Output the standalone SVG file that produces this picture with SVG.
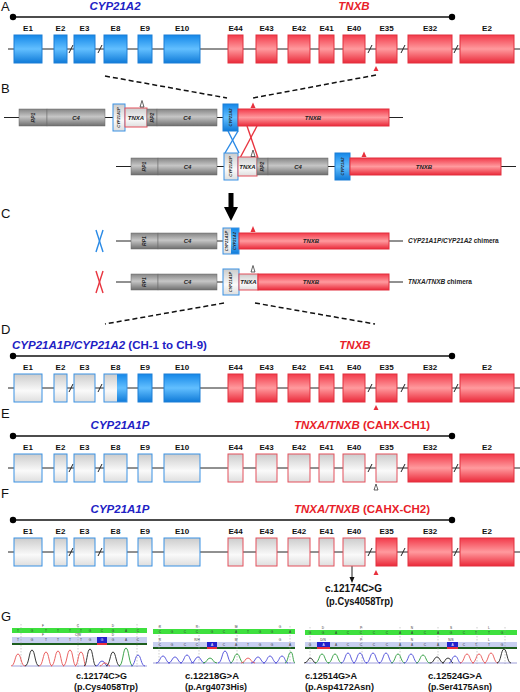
<svg xmlns="http://www.w3.org/2000/svg" width="520" height="692" viewBox="0 0 520 692">
<defs>
<linearGradient id="gB" x1="0" y1="0" x2="0" y2="1"><stop offset="0" stop-color="#1487e8"/><stop offset="0.5" stop-color="#62bfff"/><stop offset="1" stop-color="#0f7ad8"/></linearGradient>
<linearGradient id="gR" x1="0" y1="0" x2="0" y2="1"><stop offset="0" stop-color="#f23a4a"/><stop offset="0.5" stop-color="#ff9a9e"/><stop offset="1" stop-color="#ea2a3a"/></linearGradient>
<linearGradient id="gW" x1="0" y1="0" x2="0" y2="1"><stop offset="0" stop-color="#cccccc"/><stop offset="0.6" stop-color="#fafafa"/><stop offset="1" stop-color="#dedede"/></linearGradient>
<linearGradient id="gG" x1="0" y1="0" x2="0" y2="1"><stop offset="0" stop-color="#858585"/><stop offset="0.45" stop-color="#c6c6c6"/><stop offset="1" stop-color="#6e6e6e"/></linearGradient>
<style>
.pl{font-family:'Liberation Sans',Arial,sans-serif;font-size:13px;fill:#111}
.ttl{font-family:'Liberation Sans',Arial,sans-serif;font-weight:bold;font-size:11.5px}
.tb{fill:#2121c4}.tr{fill:#e81e2a}
.it{font-style:italic}
.el{font-family:'Liberation Sans',Arial,sans-serif;font-weight:bold;font-size:8px;text-anchor:middle;fill:#111}
.b{fill:url(#gB);stroke:#1c7fd6;stroke-width:1}
.r{fill:url(#gR);stroke:#e2303e;stroke-width:1}
.gw{fill:url(#gW);stroke:#3b92e4;stroke-width:1}
.gr{fill:url(#gW);stroke:#e4505c;stroke-width:1}
.cy{fill:url(#gG);stroke:#6a6a6a;stroke-width:0.5}
.ln{stroke:#222;stroke-width:1;fill:none}
.tl{stroke:#111;stroke-width:1.6;fill:none}
.ds{stroke:#111;stroke-width:1.5;stroke-dasharray:5 3;fill:none}
.bt{font-family:'Liberation Sans',Arial,sans-serif;font-weight:bold;font-style:italic;fill:#222;text-anchor:middle}
.f6{font-size:6px}.f5{font-size:5px}.f4{font-size:4px}
.cl{font-family:'Liberation Sans',Arial,sans-serif;font-weight:bold;font-size:6.5px;fill:#222}
.rt{fill:#e8303c}
.ot{fill:#fff;stroke:#222;stroke-width:0.7}
.xb{stroke:#2a8ae6;stroke-width:1.4;fill:none}
.xr{stroke:#e8343f;stroke-width:1.4;fill:none}
.ann{font-family:'Liberation Sans',Arial,sans-serif;font-weight:bold;font-size:10px;fill:#111}
.gl{font-family:'Liberation Sans',Arial,sans-serif;font-weight:bold;font-size:9.5px;fill:#111}
.sq{font-family:'Liberation Sans',Arial,sans-serif;font-size:3.2px;fill:#333;text-anchor:middle}
.sw{font-family:'Liberation Sans',Arial,sans-serif;font-size:3.2px;fill:#fff;text-anchor:middle}
.gbar{fill:#3ee03e}.lbar{fill:#c8cff0}.dbar{fill:#1d5e1d}.bsq{fill:#2222cc}.rul{fill:#e8303c}
.vd{stroke:#999;stroke-width:0.5;stroke-dasharray:1.5 1.5;fill:none}
.pr{stroke:#e85050;stroke-width:0.9;fill:none}
.pk{stroke:#222;stroke-width:0.9;fill:none}
.pb{stroke:#4848d8;stroke-width:0.9;fill:none}
.pg{stroke:#2a9a3a;stroke-width:0.9;fill:none}
</style>
</defs>
<rect width="520" height="692" fill="#fff"/>

<!-- panel letters -->
<text class="pl" x="1" y="11">A</text>
<text class="pl" x="1" y="93">B</text>
<text class="pl" x="1" y="218">C</text>
<text class="pl" x="1" y="334">D</text>
<text class="pl" x="1" y="418">E</text>
<text class="pl" x="1" y="498">F</text>
<text class="pl" x="1" y="621">G</text>

<!-- connectors -->
<g id="connectors">
<line class="ds" x1="105" y1="76" x2="227" y2="98"/>
<line class="ds" x1="376" y1="75" x2="253" y2="98"/>
<line class="xb" x1="228" y1="131" x2="239" y2="153"/>
<line class="xb" x1="238" y1="131" x2="225" y2="153"/>
<line class="xr" x1="247" y1="126" x2="258" y2="158"/>
<line class="xr" x1="257" y1="126" x2="240" y2="158"/>
<polygon points="228.5,193 233.5,193 233.5,207 238,207 231,221 224,207 228.5,207" fill="#000"/>
<line class="ds" x1="224" y1="303" x2="105" y2="324"/>
<line class="ds" x1="255" y1="303" x2="375" y2="324"/>
<line class="ln" x1="352" y1="566" x2="352" y2="578"/>
<polygon points="349.5,577 354.5,577 352,583" fill="#111"/>
</g>

<!-- PANEL A -->
<g id="panelA">
<g id="A-title"><line class="tl" x1="13" y1="17" x2="452" y2="17"/><circle cx="13" cy="17" r="3.2"/><circle cx="452" cy="17" r="3.2"/>
<text class="ttl tb it" x="115" y="9.7" text-anchor="middle">CYP21A2</text>
<text class="ttl tr it" x="354" y="9.7" text-anchor="middle">TNXB</text></g>
<line class="ln" x1="8" y1="49" x2="520" y2="49"/>
<g class="ln"><line x1="69" y1="53" x2="73" y2="45"/><line x1="98" y1="53" x2="102" y2="45"/><line x1="368" y1="53" x2="372" y2="45"/><line x1="401" y1="53" x2="405" y2="45"/><line x1="454" y1="53" x2="458" y2="45"/></g>
<g id="A-E1"><rect class="b" x="14" y="35" width="28" height="28"/><text class="el" x="28" y="31">E1</text></g>
<g id="A-E2"><rect class="b" x="54" y="35" width="13" height="28"/><text class="el" x="60.5" y="31">E2</text></g>
<g id="A-E3"><rect class="b" x="74" y="35" width="21" height="28"/><text class="el" x="84.5" y="31">E3</text></g>
<g id="A-E8"><rect class="b" x="104" y="35" width="23" height="28"/><text class="el" x="115.5" y="31">E8</text></g>
<g id="A-E9"><rect class="b" x="138" y="35" width="14" height="28"/><text class="el" x="145" y="31">E9</text></g>
<g id="A-E10"><rect class="b" x="164" y="35" width="36" height="28"/><text class="el" x="182" y="31">E10</text></g>
<g id="A-E44"><rect class="r" x="228" y="35" width="15" height="28"/><text class="el" x="235.5" y="31">E44</text></g>
<g id="A-E43"><rect class="r" x="256" y="35" width="21" height="28"/><text class="el" x="266.5" y="31">E43</text></g>
<g id="A-E42"><rect class="r" x="288" y="35" width="22" height="28"/><text class="el" x="299" y="31">E42</text></g>
<g id="A-E41"><rect class="r" x="319" y="35" width="15" height="28"/><text class="el" x="326.5" y="31">E41</text></g>
<g id="A-E40"><rect class="r" x="343" y="35" width="22" height="28"/><text class="el" x="354" y="31">E40</text></g>
<g id="A-E35"><rect class="r" x="376" y="35" width="21" height="28"/><text class="el" x="386.5" y="31">E35</text></g>
<g id="A-E32"><rect class="r" x="408" y="35" width="44" height="28"/><text class="el" x="430" y="31">E32</text></g>
<g id="A-E2b"><rect class="r" x="460" y="35" width="54" height="28"/><text class="el" x="487" y="31">E2</text></g>
<polygon class="rt" points="373.5,71 378.5,71 376,66"/>
</g>

<!-- PANEL B -->
<g id="panelB">
<line class="ln" x1="4" y1="117.5" x2="403" y2="117.5"/>
<g id="B1-RP1"><rect class="cy" x="19" y="109" width="28" height="17"/><text class="bt f5" x="33" y="117.5" dy="1.7" transform="rotate(-90 33 117.5)">RP1</text></g>
<g id="B1-C4"><rect class="cy" x="47" y="109" width="58" height="17"/><text class="bt f6" x="76" y="119.7">C4</text></g>
<g id="B1-CYP21A1P"><rect class="gw" x="113" y="104" width="12" height="27"/><text class="bt f4" x="119" y="117.5" dy="1.4" transform="rotate(-90 119 117.5)">CYP21A1P</text></g>
<g id="B1-TNXA"><rect class="gr" x="125" y="108" width="22" height="19"/><text class="bt f6" x="136" y="119.7">TNXA</text></g>
<polygon class="ot" points="140,107 144,107 142,100.5"/>
<g id="B1-RP2"><rect class="cy" x="147" y="109" width="10" height="17"/><text class="bt f5" x="152" y="117.5" dy="1.7" transform="rotate(-90 152 117.5)">RP2</text></g>
<g id="B1-C4b"><rect class="cy" x="157" y="109" width="60" height="17"/><text class="bt f6" x="187" y="119.7">C4</text></g>
<g id="B1-CYP21A2"><rect class="b" x="223" y="104" width="15" height="27"/><text class="bt f4" x="230.5" y="117.5" dy="1.4" transform="rotate(-90 230.5 117.5)">CYP21A2</text></g>
<g id="B1-TNXB"><rect class="r" x="238" y="109" width="151" height="17"/><text class="bt f6" x="313" y="119.7">TNXB</text></g>
<polygon class="rt" points="250.5,108 255.5,108 253,102.5"/>

<line class="ln" x1="116" y1="166.5" x2="516" y2="166.5"/>
<g id="B2-RP1"><rect class="cy" x="131" y="158" width="27" height="17"/><text class="bt f5" x="144.5" y="166.5" dy="1.7" transform="rotate(-90 144.5 166.5)">RP1</text></g>
<g id="B2-C4"><rect class="cy" x="158" y="158" width="59" height="17"/><text class="bt f6" x="187.5" y="168.7">C4</text></g>
<g id="B2-CYP21A1P"><rect class="gw" x="224" y="153" width="14" height="27"/><text class="bt f4" x="231" y="166.5" dy="1.4" transform="rotate(-90 231 166.5)">CYP21A1P</text></g>
<g id="B2-TNXA"><rect class="gr" x="238" y="157" width="19" height="19"/><text class="bt f6" x="247.5" y="168.7">TNXA</text></g>
<polygon class="ot" points="251,156.5 255,156.5 253,150"/>
<g id="B2-RP2"><rect class="cy" x="257" y="158" width="11" height="17"/><text class="bt f5" x="262.5" y="166.5" dy="1.7" transform="rotate(-90 262.5 166.5)">RP2</text></g>
<g id="B2-C4b"><rect class="cy" x="268" y="158" width="60" height="17"/><text class="bt f6" x="298" y="168.7">C4</text></g>
<g id="B2-CYP21A2"><rect class="b" x="335" y="153" width="15" height="27"/><text class="bt f4" x="342.5" y="166.5" dy="1.4" transform="rotate(-90 342.5 166.5)">CYP21A2</text></g>
<g id="B2-TNXB"><rect class="r" x="350" y="158" width="151" height="17"/><text class="bt f6" x="424" y="168.7">TNXB</text></g>
<polygon class="rt" points="361.5,157 366.5,157 364,151.5"/>
</g>

<!-- PANEL C -->
<g id="panelC">
<g id="C1-X"><line class="xb" x1="96" y1="230" x2="103" y2="252"/><line class="xb" x1="103" y1="230" x2="96" y2="252"/></g>
<line class="ln" x1="116" y1="241" x2="403" y2="241"/>
<g id="C1-RP1"><rect class="cy" x="131" y="233" width="27" height="16"/><text class="bt f5" x="144.5" y="241" dy="1.7" transform="rotate(-90 144.5 241)">RP1</text></g>
<g id="C1-C4"><rect class="cy" x="158" y="233" width="59" height="16"/><text class="bt f6" x="187.5" y="243.2">C4</text></g>
<g id="C1-chimera"><rect x="223" y="228" width="8" height="26" fill="url(#gW)"/><rect x="231" y="228" width="8" height="26" fill="url(#gB)"/><rect x="223" y="228" width="16" height="26" fill="none" stroke="#3b92e4"/>
<text class="bt f4" x="227" y="241" dy="1.4" transform="rotate(-90 227 241)">CYP21A1P</text><text class="bt f4" x="235" y="241" dy="1.4" transform="rotate(-90 235 241)">CYP21A2</text></g>
<g id="C1-TNXB"><rect class="r" x="239" y="233" width="150" height="16"/><text class="bt f6" x="311" y="243.2">TNXB</text></g>
<polygon class="rt" points="250.5,232 255.5,232 253,226"/>
<text class="cl" x="408" y="243.3"><tspan font-style="italic">CYP21A1P/CYP21A2</tspan> chimera</text>

<g id="C2-X"><line class="xr" x1="96" y1="271" x2="103" y2="293"/><line class="xr" x1="103" y1="271" x2="96" y2="293"/></g>
<line class="ln" x1="116" y1="282" x2="403" y2="282"/>
<g id="C2-RP1"><rect class="cy" x="131" y="274" width="27" height="16"/><text class="bt f5" x="144.5" y="282" dy="1.7" transform="rotate(-90 144.5 282)">RP1</text></g>
<g id="C2-C4"><rect class="cy" x="158" y="274" width="59" height="16"/><text class="bt f6" x="187.5" y="284.2">C4</text></g>
<g id="C2-CYP21A1P"><rect class="gw" x="223" y="269" width="16" height="26"/><text class="bt f4" x="231" y="282" dy="1.4" transform="rotate(-90 231 282)">CYP21A1P</text></g>
<g id="C2-TNXA"><rect class="gr" x="239" y="274" width="19" height="16"/><text class="bt f6" x="248.5" y="284.2">TNXA</text></g>
<polygon class="ot" points="251,272 255,272 253,265.5"/>
<g id="C2-TNXB"><rect class="r" x="258" y="274" width="131" height="16"/><text class="bt f6" x="311" y="284.2">TNXB</text></g>
<text class="cl" x="408" y="284.3"><tspan font-style="italic">TNXA/TNXB</tspan> chimera</text>
</g>

<!-- PANEL D -->
<g id="panelD" transform="translate(0,339)">
<g id="D-title"><line class="tl" x1="13" y1="17" x2="452" y2="17"/><circle cx="13" cy="17" r="3.2"/><circle cx="452" cy="17" r="3.2"/>
<text class="ttl tb" x="12" y="9.5"><tspan class="it">CYP21A1P/CYP21A2</tspan> (CH-1 to CH-9)</text>
<text class="ttl tr it" x="355" y="9.5" text-anchor="middle">TNXB</text></g>
<line class="ln" x1="8" y1="49" x2="520" y2="49"/>
<g class="ln"><line x1="69" y1="53" x2="73" y2="45"/><line x1="98" y1="53" x2="102" y2="45"/><line x1="368" y1="53" x2="372" y2="45"/><line x1="401" y1="53" x2="405" y2="45"/><line x1="454" y1="53" x2="458" y2="45"/></g>
<g id="D-E1"><rect class="gw" x="14" y="35" width="28" height="28"/><text class="el" x="28" y="31">E1</text></g>
<g id="D-E2"><rect class="gw" x="54" y="35" width="13" height="28"/><text class="el" x="60.5" y="31">E2</text></g>
<g id="D-E3"><rect class="gw" x="74" y="35" width="21" height="28"/><text class="el" x="84.5" y="31">E3</text></g>
<g id="D-E8"><rect x="104" y="35" width="13" height="28" fill="url(#gW)"/><rect x="117" y="35" width="10" height="28" fill="url(#gB)"/><rect x="104" y="35" width="23" height="28" fill="none" stroke="#3b92e4"/><text class="el" x="115.5" y="31">E8</text></g>
<g id="D-E9"><rect class="b" x="138" y="35" width="14" height="28"/><text class="el" x="145" y="31">E9</text></g>
<g id="D-E10"><rect class="b" x="164" y="35" width="36" height="28"/><text class="el" x="182" y="31">E10</text></g>
<g id="D-E44"><rect class="r" x="228" y="35" width="15" height="28"/><text class="el" x="235.5" y="31">E44</text></g>
<g id="D-E43"><rect class="r" x="256" y="35" width="21" height="28"/><text class="el" x="266.5" y="31">E43</text></g>
<g id="D-E42"><rect class="r" x="288" y="35" width="22" height="28"/><text class="el" x="299" y="31">E42</text></g>
<g id="D-E41"><rect class="r" x="319" y="35" width="15" height="28"/><text class="el" x="326.5" y="31">E41</text></g>
<g id="D-E40"><rect class="r" x="343" y="35" width="22" height="28"/><text class="el" x="354" y="31">E40</text></g>
<g id="D-E35"><rect class="r" x="376" y="35" width="21" height="28"/><text class="el" x="386.5" y="31">E35</text></g>
<g id="D-E32"><rect class="r" x="408" y="35" width="44" height="28"/><text class="el" x="430" y="31">E32</text></g>
<g id="D-E2b"><rect class="r" x="460" y="35" width="54" height="28"/><text class="el" x="487" y="31">E2</text></g>
<polygon class="rt" points="373.5,71 378.5,71 376,66"/>
</g>

<!-- PANEL E -->
<g id="panelE" transform="translate(0,419)">
<g id="E-title"><line class="tl" x1="13" y1="17" x2="452" y2="17"/><circle cx="13" cy="17" r="3.2"/><circle cx="452" cy="17" r="3.2"/>
<text class="ttl tb it" x="120" y="9.7" text-anchor="middle">CYP21A1P</text>
<text class="ttl tr" x="362" y="9.7" text-anchor="middle"><tspan class="it">TNXA/TNXB</tspan> (CAHX-CH1)</text></g>
<line class="ln" x1="8" y1="49" x2="520" y2="49"/>
<g class="ln"><line x1="69" y1="53" x2="73" y2="45"/><line x1="98" y1="53" x2="102" y2="45"/><line x1="368" y1="53" x2="372" y2="45"/><line x1="401" y1="53" x2="405" y2="45"/><line x1="454" y1="53" x2="458" y2="45"/></g>
<g id="E-E1"><rect class="gw" x="14" y="35" width="28" height="28"/><text class="el" x="28" y="31">E1</text></g>
<g id="E-E2"><rect class="gw" x="54" y="35" width="13" height="28"/><text class="el" x="60.5" y="31">E2</text></g>
<g id="E-E3"><rect class="gw" x="74" y="35" width="21" height="28"/><text class="el" x="84.5" y="31">E3</text></g>
<g id="E-E8"><rect class="gw" x="104" y="35" width="23" height="28"/><text class="el" x="115.5" y="31">E8</text></g>
<g id="E-E9"><rect class="gw" x="138" y="35" width="14" height="28"/><text class="el" x="145" y="31">E9</text></g>
<g id="E-E10"><rect class="gw" x="164" y="35" width="36" height="28"/><text class="el" x="182" y="31">E10</text></g>
<g id="E-E44"><rect class="gr" x="228" y="35" width="15" height="28"/><text class="el" x="235.5" y="31">E44</text></g>
<g id="E-E43"><rect class="gr" x="256" y="35" width="21" height="28"/><text class="el" x="266.5" y="31">E43</text></g>
<g id="E-E42"><rect class="gr" x="288" y="35" width="22" height="28"/><text class="el" x="299" y="31">E42</text></g>
<g id="E-E41"><rect class="gr" x="319" y="35" width="15" height="28"/><text class="el" x="326.5" y="31">E41</text></g>
<g id="E-E40"><rect class="gr" x="343" y="35" width="22" height="28"/><text class="el" x="354" y="31">E40</text></g>
<g id="E-E35"><rect class="gr" x="376" y="35" width="21" height="28"/><text class="el" x="386.5" y="31">E35</text></g>
<g id="E-E32"><rect class="r" x="408" y="35" width="44" height="28"/><text class="el" x="430" y="31">E32</text></g>
<g id="E-E2b"><rect class="r" x="460" y="35" width="54" height="28"/><text class="el" x="487" y="31">E2</text></g>
<polygon class="ot" points="374,71 378,71 376,65"/>
</g>

<!-- PANEL F -->
<g id="panelF" transform="translate(0,503)">
<g id="F-title"><line class="tl" x1="13" y1="17" x2="452" y2="17"/><circle cx="13" cy="17" r="3.2"/><circle cx="452" cy="17" r="3.2"/>
<text class="ttl tb it" x="120" y="9.7" text-anchor="middle">CYP21A1P</text>
<text class="ttl tr" x="362" y="9.7" text-anchor="middle"><tspan class="it">TNXA/TNXB</tspan> (CAHX-CH2)</text></g>
<line class="ln" x1="8" y1="49" x2="520" y2="49"/>
<g class="ln"><line x1="69" y1="53" x2="73" y2="45"/><line x1="98" y1="53" x2="102" y2="45"/><line x1="368" y1="53" x2="372" y2="45"/><line x1="401" y1="53" x2="405" y2="45"/><line x1="454" y1="53" x2="458" y2="45"/></g>
<g id="F-E1"><rect class="gw" x="14" y="35" width="28" height="28"/><text class="el" x="28" y="31">E1</text></g>
<g id="F-E2"><rect class="gw" x="54" y="35" width="13" height="28"/><text class="el" x="60.5" y="31">E2</text></g>
<g id="F-E3"><rect class="gw" x="74" y="35" width="21" height="28"/><text class="el" x="84.5" y="31">E3</text></g>
<g id="F-E8"><rect class="gw" x="104" y="35" width="23" height="28"/><text class="el" x="115.5" y="31">E8</text></g>
<g id="F-E9"><rect class="gw" x="138" y="35" width="14" height="28"/><text class="el" x="145" y="31">E9</text></g>
<g id="F-E10"><rect class="gw" x="164" y="35" width="36" height="28"/><text class="el" x="182" y="31">E10</text></g>
<g id="F-E44"><rect class="gr" x="228" y="35" width="15" height="28"/><text class="el" x="235.5" y="31">E44</text></g>
<g id="F-E43"><rect class="gr" x="256" y="35" width="21" height="28"/><text class="el" x="266.5" y="31">E43</text></g>
<g id="F-E42"><rect class="gr" x="288" y="35" width="22" height="28"/><text class="el" x="299" y="31">E42</text></g>
<g id="F-E41"><rect class="gr" x="319" y="35" width="15" height="28"/><text class="el" x="326.5" y="31">E41</text></g>
<g id="F-E40"><rect class="gr" x="343" y="35" width="22" height="28"/><text class="el" x="354" y="31">E40</text></g>
<g id="F-E35"><rect class="r" x="376" y="35" width="21" height="28"/><text class="el" x="386.5" y="31">E35</text></g>
<g id="F-E32"><rect class="r" x="408" y="35" width="44" height="28"/><text class="el" x="430" y="31">E32</text></g>
<g id="F-E2b"><rect class="r" x="460" y="35" width="54" height="28"/><text class="el" x="487" y="31">E2</text></g>
<polygon class="rt" points="373.5,72 378.5,72 376,67"/>
</g>
<g id="F-annotation">
<text class="ann" x="325" y="592">c.12174C&gt;G</text>
<text class="ann" x="326" y="604.5" textLength="67" lengthAdjust="spacingAndGlyphs">(p.Cys4058Trp)</text>
</g>

<!-- PANEL G -->
<g id="panelG">
<g id="G-trace1">
<rect class="gbar" x="12" y="628" width="135" height="5"/>
<rect class="lbar" x="12" y="637" width="135" height="6"/>
<rect class="dbar" x="12" y="643" width="135" height="2"/>
<rect class="bsq" x="97" y="637" width="10" height="6"/>
<rect class="rul" x="97" y="643" width="10" height="2"/>
<g class="vd"><line x1="21" y1="624" x2="21" y2="667"/><line x1="78" y1="624" x2="78" y2="667"/><line x1="137" y1="624" x2="137" y2="667"/></g>
<g class="sq"><text x="43" y="626.5">F</text><text x="78" y="626.5">C</text><text x="113" y="626.5">D</text>
<text x="18" y="631.8">T</text><text x="32" y="631.8">G</text><text x="46" y="631.8">T</text><text x="58" y="631.8">T</text><text x="70" y="631.8">T</text><text x="81" y="631.8">T</text><text x="90" y="631.8">G</text><text x="102" y="631.8">C</text><text x="113" y="631.8">G</text><text x="126" y="631.8">A</text><text x="138" y="631.8">C</text>
<text x="43" y="635.8">F</text><text x="78" y="635.8">C/W</text><text x="113" y="635.8">D</text>
<text x="18" y="641.2">T</text><text x="32" y="641.2">G</text><text x="46" y="641.2">T</text><text x="58" y="641.2">T</text><text x="70" y="641.2">T</text><text x="81" y="641.2">T</text><text x="90" y="641.2">G</text><text x="113" y="641.2">G</text><text x="126" y="641.2">A</text><text x="138" y="641.2">C</text></g>
<text class="sw" x="102" y="641.2">G</text>
<line x1="12" y1="666" x2="147" y2="666" stroke="#6060c0" stroke-width="0.6"/>
<path class="pr" d="M11,666 C15,666 15,654 18,654 C21,654 21,666 25,666"/>
<path class="pk" d="M25,666 C29,666 29,650 32,650 C35,650 35,666 39,666"/>
<path class="pr" d="M39,666 C43,666 43,652 46,652 C49,652 49,666 52,666"/>
<path class="pr" d="M51,666 C55,666 55,651 58,651 C61,651 61,666 64,666"/>
<path class="pr" d="M63,666 C67,666 67,650 70,650 C73,650 73,666 76,666"/>
<path class="pr" d="M75,666 C78,666 78,652 81,652 C84,652 84,666 86,666"/>
<path class="pk" d="M84,666 C87,666 87,649 90,649 C93,649 93,666 96,666"/>
<path class="pb" d="M96,666 C99,666 99,661 102,661 C105,661 105,666 108,666"/>
<path class="pr" d="M100,666 C102,666 102,663 105,663 C108,663 108,666 110,666"/>
<path class="pk" d="M106,666 C110,666 110,652 113,652 C116,652 116,666 120,666"/>
<path class="pg" d="M119,666 C123,666 123,648 126,648 C129,648 129,666 133,666"/>
<path class="pb" d="M131,666 C135,666 135,655 138,655 C141,655 141,666 145,666"/>
</g>

<g id="G-trace2">
<rect class="gbar" x="153" y="629" width="142" height="5"/>
<rect class="lbar" x="153" y="642" width="142" height="5"/>
<rect class="dbar" x="153" y="647" width="142" height="2"/>
<rect class="bsq" x="207" y="642" width="10" height="5"/>
<rect class="rul" x="207" y="647" width="10" height="2"/>
<g class="vd"><line x1="159" y1="626" x2="159" y2="664"/><line x1="199" y1="626" x2="199" y2="664"/><line x1="237" y1="626" x2="237" y2="664"/><line x1="290" y1="626" x2="290" y2="664"/></g>
<g class="sq"><text x="160" y="627.5">R</text><text x="197" y="627.5">R</text><text x="236" y="627.5">M</text><text x="280" y="627.5">G</text>
<text x="160" y="632.8">C</text><text x="172" y="632.8">G</text><text x="185" y="632.8">C</text><text x="197" y="632.8">C</text><text x="212" y="632.8">G</text><text x="224" y="632.8">C</text><text x="236" y="632.8">A</text><text x="248" y="632.8">T</text><text x="260" y="632.8">G</text><text x="272" y="632.8">G</text><text x="290" y="632.8">A</text>
<text x="160" y="640.5">R</text><text x="197" y="640.5">R/H</text><text x="236" y="640.5">M</text><text x="280" y="640.5">G</text>
<text x="160" y="645.8">C</text><text x="172" y="645.8">G</text><text x="185" y="645.8">C</text><text x="197" y="645.8">C</text><text x="224" y="645.8">C</text><text x="236" y="645.8">A</text><text x="248" y="645.8">T</text><text x="260" y="645.8">G</text><text x="272" y="645.8">G</text><text x="290" y="645.8">A</text></g>
<text class="sw" x="212" y="645.8">A</text>
<line x1="153" y1="663" x2="295" y2="663" stroke="#6060c0" stroke-width="0.6"/>
<path class="pb" d="M156,663 C160,663 160,656 163,656 C166,656 166,663 170,663"/>
<path class="pb" d="M168,663 C172,663 172,657 175,657 C178,657 178,663 182,663"/>
<path class="pb" d="M180,663 C184,663 184,655 187,655 C190,655 190,663 194,663"/>
<path class="pb" d="M191,663 C195,663 195,657 198,657 C201,657 201,663 205,663"/>
<path class="pg" d="M203,663 C207,663 207,658 210,658 C213,658 213,663 217,663"/>
<path class="pb" d="M218,663 C222,663 222,651 225,651 C228,651 228,663 232,663"/>
<path class="pg" d="M230,663 C234,663 234,654 237,654 C240,654 240,663 244,663"/>
<path class="pr" d="M241,663 C245,663 245,658 248,658 C251,658 251,663 255,663"/>
<path class="pb" d="M251,663 C255,663 255,657 258,657 C261,657 261,663 265,663"/>
<path class="pb" d="M263,663 C267,663 267,656 270,656 C273,656 273,663 277,663"/>
<path class="pb" d="M275,663 C279,663 279,656 282,656 C285,656 285,663 288,663"/>
<path class="pg" d="M285,663 C288,663 288,652 291,652 C293,652 293,663 295,663"/>
</g>

<g id="G-trace3">
<rect class="gbar" x="305" y="630" width="212" height="5"/>
<rect class="lbar" x="305" y="642" width="212" height="5"/>
<rect class="dbar" x="305" y="647" width="212" height="2"/>
<rect class="bsq" x="317" y="642" width="13" height="5"/>
<rect class="rul" x="317" y="647" width="13" height="2"/>
<rect class="bsq" x="447" y="642" width="11" height="5"/>
<rect class="rul" x="447" y="647" width="11" height="2"/>
<g class="vd"><line x1="310" y1="627" x2="310" y2="664"/><line x1="362" y1="627" x2="362" y2="664"/><line x1="400" y1="627" x2="400" y2="664"/><line x1="438" y1="627" x2="438" y2="664"/><line x1="477" y1="627" x2="477" y2="664"/><line x1="505" y1="627" x2="505" y2="664"/></g>
<g class="sq"><text x="323" y="628.5">D</text><text x="361" y="628.5">P</text><text x="412" y="628.5">N</text><text x="451" y="628.5">S</text><text x="489" y="628.5">L</text>
<text x="310" y="633.8">G</text><text x="323" y="633.8">G</text><text x="336" y="633.8">A</text><text x="348" y="633.8">C</text><text x="361" y="633.8">C</text><text x="374" y="633.8">C</text><text x="387" y="633.8">C</text><text x="400" y="633.8">A</text><text x="412" y="633.8">A</text><text x="425" y="633.8">C</text><text x="438" y="633.8">A</text><text x="451" y="633.8">G</text><text x="464" y="633.8">C</text><text x="476" y="633.8">T</text><text x="489" y="633.8">T</text><text x="502" y="633.8">G</text>
<text x="323" y="640.5">D/N</text><text x="361" y="640.5">P</text><text x="412" y="640.5">N</text><text x="451" y="640.5">N/S</text><text x="489" y="640.5">L</text>
<text x="310" y="645.8">G</text><text x="336" y="645.8">A</text><text x="348" y="645.8">C</text><text x="361" y="645.8">C</text><text x="374" y="645.8">C</text><text x="387" y="645.8">C</text><text x="400" y="645.8">A</text><text x="412" y="645.8">A</text><text x="425" y="645.8">C</text><text x="438" y="645.8">A</text><text x="464" y="645.8">C</text><text x="476" y="645.8">T</text><text x="489" y="645.8">T</text><text x="502" y="645.8">G</text></g>
<text class="sw" x="323.5" y="645.8">A</text><text class="sw" x="452.5" y="645.8">A</text>
<line x1="305" y1="663" x2="517" y2="663" stroke="#6060c0" stroke-width="0.6"/>
<path class="pk" d="M304,663 C308,663 308,658 310,658 C313,658 313,663 316,663"/>
<path class="pg" d="M315,663 C319,663 319,654 322,654 C325,654 325,663 329,663"/>
<path class="pg" d="M328,663 C332,663 332,654 335,654 C338,654 338,663 342,663"/>
<path class="pb" d="M341,663 C345,663 345,653 348,653 C351,653 351,663 355,663"/>
<path class="pb" d="M353,663 C357,663 357,653 360,653 C363,653 363,663 367,663"/>
<path class="pb" d="M366,663 C370,663 370,653 373,653 C376,653 376,663 380,663"/>
<path class="pb" d="M379,663 C383,663 383,653 386,653 C389,653 389,663 393,663"/>
<path class="pg" d="M391,663 C395,663 395,654 398,654 C401,654 401,663 405,663"/>
<path class="pb" d="M404,663 C408,663 408,654 411,654 C414,654 414,663 418,663"/>
<path class="pg" d="M416,663 C420,663 420,655 423,655 C426,655 426,663 430,663"/>
<path class="pk" d="M430,663 C434,663 434,657 437,657 C440,657 440,663 444,663"/>
<path class="pk" d="M442,663 C445,663 445,658 448,658 C451,658 451,663 453,663"/>
<path class="pb" d="M449,663 C452,663 452,656 455,656 C458,656 458,663 461,663"/>
<path class="pr" d="M460,663 C464,663 464,654 467,654 C470,654 470,663 474,663"/>
<path class="pr" d="M472,663 C476,663 476,654 479,654 C482,654 482,663 486,663"/>
<path class="pr" d="M484,663 C488,663 488,653 491,653 C494,653 494,663 498,663"/>
<path class="pk" d="M497,663 C501,663 501,649 504,649 C507,649 507,663 511,663"/>
</g>

<g id="G-labels">
<text class="gl" x="76" y="679" textLength="51" lengthAdjust="spacingAndGlyphs">c.12174C&gt;G</text>
<text class="gl" x="74" y="690" textLength="64" lengthAdjust="spacingAndGlyphs">(p.Cys4058Trp)</text>
<text class="gl" x="185" y="679" textLength="54" lengthAdjust="spacingAndGlyphs">c.12218G&gt;A</text>
<text class="gl" x="185" y="690" textLength="62" lengthAdjust="spacingAndGlyphs">(p.Arg4073His)</text>
<text class="gl" x="305" y="679" textLength="52" lengthAdjust="spacingAndGlyphs">c.12514G&gt;A</text>
<text class="gl" x="305" y="690" textLength="69" lengthAdjust="spacingAndGlyphs">(p.Asp4172Asn)</text>
<text class="gl" x="428" y="679" textLength="54" lengthAdjust="spacingAndGlyphs">c.12524G&gt;A</text>
<text class="gl" x="428" y="690" textLength="64" lengthAdjust="spacingAndGlyphs">(p.Ser4175Asn)</text>
</g>
</g>
</svg>
